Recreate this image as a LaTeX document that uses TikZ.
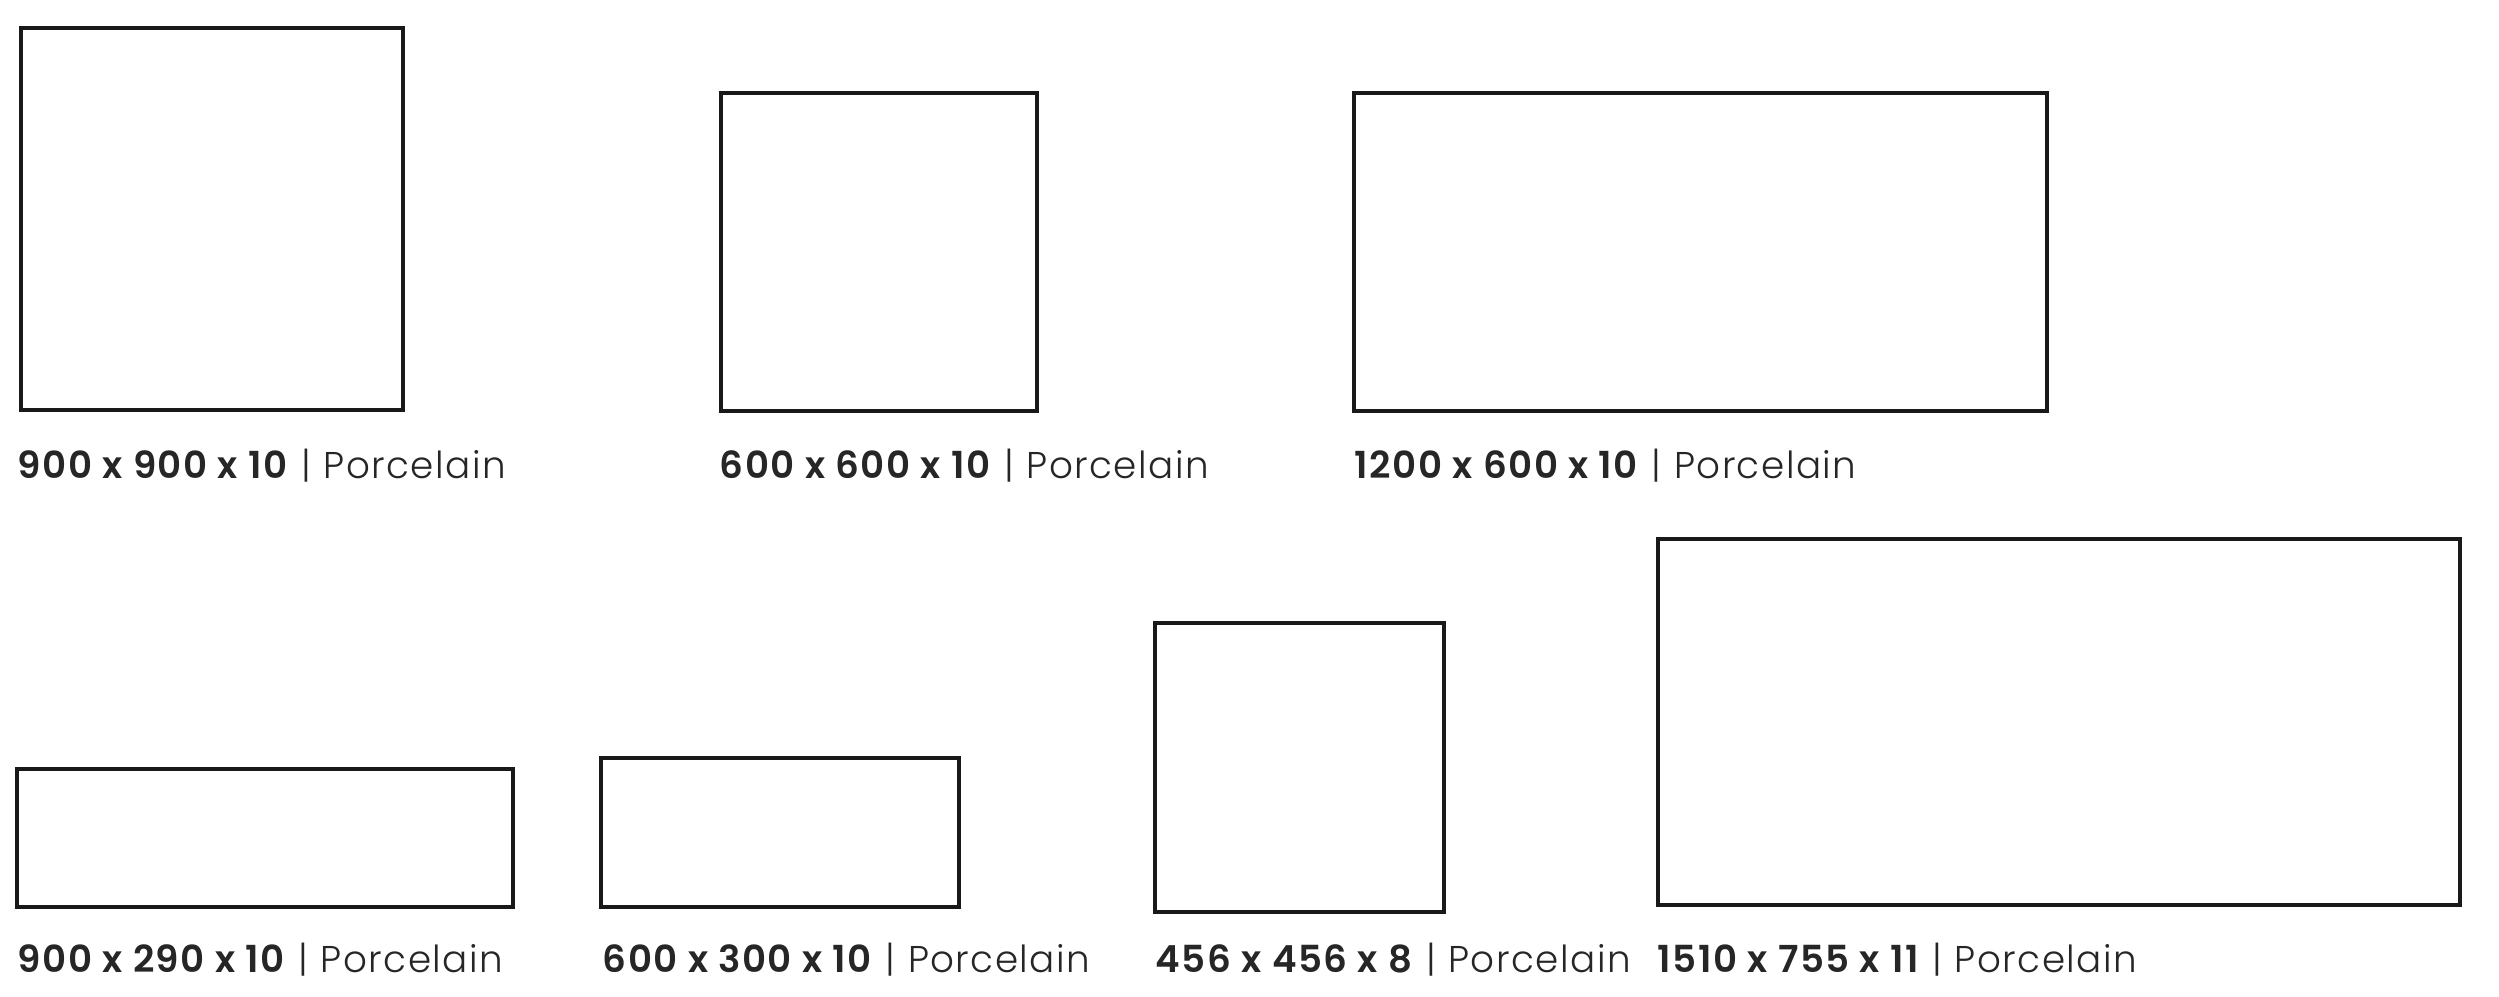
\documentclass[tikz,border=0pt]{standalone}
\usepackage{fontspec}
\setmainfont{Poppins}[UprightFont=* Light, BoldFont=* SemiBold, LetterSpace=4]
\usepackage{tikz}

\tikzset{
    tile/.style={draw=black!90, line width=1pt, anchor=north west, inner sep=0pt},
    lbl/.style={anchor=base west, inner sep=0pt, font=\fontsize{10.6}{12}\selectfont, text=black!85}
}
\newcommand{\tilesize}[1]{\textbf{#1}\,\,|\,\,Porcelain}

\begin{document}
\begin{tikzpicture}[x=0.01cm, y=-0.01cm]
    \useasboundingbox (0,0) rectangle (2499,996);

    % Top row of tiles
    \node[tile, minimum width=3.82cm, minimum height=3.82cm] (t900) at (19,26) {};
    \node[tile, minimum width=3.16cm, minimum height=3.18cm] (t600) at (719,91) {};
    \node[tile, minimum width=6.93cm, minimum height=3.18cm] (t1200) at (1352,91) {};

    \node[lbl] (l900) at (17,478) {\tilesize{900 x 900 x 10}};
    \node[lbl] (l600) at (719,478) {\tilesize{600 x 600 x 10}};
    \node[lbl] (l1200) at (1354,478) {\tilesize{1200 x 600 x 10}};

    % Bottom row of tiles
    \node[tile, minimum width=4.96cm, minimum height=1.38cm] (t290) at (15,767) {};
    \node[tile, minimum width=3.58cm, minimum height=1.49cm] (t300) at (599,756) {};
    \node[tile, minimum width=2.89cm, minimum height=2.89cm] (t456) at (1153,621) {};
    \node[tile, minimum width=8.02cm, minimum height=3.66cm] (t1510) at (1656,537) {};

    \node[lbl] (l290) at (17,972) {\tilesize{900 x 290 x 10}};
    \node[lbl] (l300) at (602,972) {\tilesize{600 x 300 x 10}};
    \node[lbl] (l456) at (1155,972) {\tilesize{456 x 456 x 8}};
    \node[lbl] (l1510) at (1657,972) {\tilesize{1510 x 755 x 11}};
\end{tikzpicture}
\end{document}
